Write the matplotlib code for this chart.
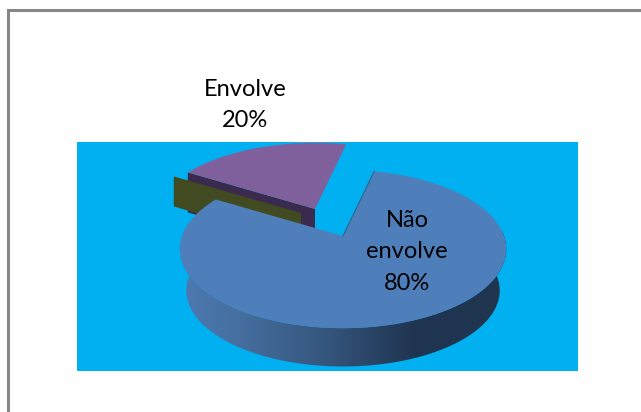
import matplotlib
matplotlib.use('Agg')
import matplotlib.pyplot as plt
import numpy as np
from matplotlib.colors import LinearSegmentedColormap
from matplotlib.patches import Polygon, Rectangle

# shares of the pie; the last one is an empty slice that only shows its wall
categories = ['Não\nenvolve', 'Envolve', '']
shares = [80, 20, 0]

plt.rcParams['font.family'] = ['Lato', 'DejaVu Sans']

W, H = 641, 412
fig = plt.figure(figsize=(W / 100, H / 100), dpi=100)
ax = fig.add_axes([0, 0, 1, 1])
ax.set_xlim(0, W)
ax.set_ylim(H, 0)
ax.axis('off')

# outer frame, only top and left are visible
ax.plot([W, 8, 8], [10, 10, H], color='#868686', lw=2.2, solid_joinstyle='miter')
ax.add_patch(Rectangle((77, 142), 501, 229, color='#00B0F0', lw=0))

# pie geometry on the page
cx, cy = 343, 236
radius = 161
foreshort = 77
persp = 0.1645
depth = 42
shrink = 0.96
notch_right = 13  # degrees right of 12 o'clock where the first slice starts


def project(angle, r=1.0, dx=0, dy=0, lower=False):
    # angle is clockwise from 12 o'clock, in degrees
    a = np.radians(angle)
    u, v = r * np.sin(a), r * np.cos(a)
    w = 1 + persp * v
    x, y = radius * u / w, -foreshort * v / w
    if lower:
        return cx + dx + shrink * x, cy + dy + shrink * y + depth
    return cx + dx + x, cy + dy + y


def outline(start, sweep, dx=0, dy=0):
    t = np.linspace(start, start + sweep, 300)
    x, y = project(t, dx=dx, dy=dy)
    return np.r_[cx + dx, x], np.r_[cy + dy, y]


def edge_wall(angle, dx, dy, wall_depth, color, zorder):
    x0, y0 = project(angle, r=0, dx=dx, dy=dy)
    x1, y1 = project(angle, dx=dx, dy=dy)
    pts = [(x0, y0), (x1, y1), (x1, y1 + wall_depth), (x0, y0 + wall_depth)]
    ax.add_patch(Polygon(pts, closed=True, color=color, lw=0, zorder=zorder))


sweeps = [360 * s / sum(shares) for s in shares]
start_big = notch_right
end_big = start_big + sweeps[0]
start_small = end_big

# exploded small slice, its front wall first and then the top
small_dx, small_dy = -28, -27
edge_wall(start_small, small_dx, small_dy, 40, '#3A2A4E', 2)
x, y = outline(start_small, sweeps[1], small_dx, small_dy)
ax.add_patch(Polygon(np.c_[x, y], closed=True, color='#80609C', lw=0, zorder=3))

# the empty slice sits in front of that wall
edge_wall(start_small, -42, -23, 30, '#414A20', 4)

# side of the big slice, shaded from left to right
t = np.linspace(start_big, end_big, 400)
tx, ty = project(t)
bx, by = project(t, lower=True)
wall = Polygon(np.r_[np.c_[tx, ty], np.c_[bx, by][::-1]], closed=True,
               transform=ax.transData, fc='none', lw=0)
ax.add_patch(wall)
side_cmap = LinearSegmentedColormap.from_list(
    'side', [(0, '#4C79B1'), (0.18, '#456F9F'), (0.45, '#35557C'),
             (0.72, '#1F3450'), (1, '#203650')])
im = ax.imshow(np.linspace(0, 1, 256)[None, :], cmap=side_cmap, aspect='auto',
               extent=(181, 507, 372, 230), zorder=5)
im.set_clip_path(wall)
ax.set_xlim(0, W)
ax.set_ylim(H, 0)

# top of the big slice
x, y = outline(start_big, sweeps[0])
ax.add_patch(Polygon(np.c_[x, y], closed=True, color='#4F7FBA', lw=0, zorder=6))
x0, y0 = project(start_big)
ax.plot([cx, x0], [cy, y0], color='#2C6A94', lw=0.9, zorder=7)

# labels
label_pos = [(407, 252), (245, 105)]
for name, share, (lx, ly) in zip(categories, shares, label_pos):
    ax.text(lx, ly, f'{name}\n{share}%', ha='center', va='center', fontsize=17,
            color='black', linespacing=1.6, zorder=8)

fig.savefig('out.png', dpi=100, facecolor='white')
